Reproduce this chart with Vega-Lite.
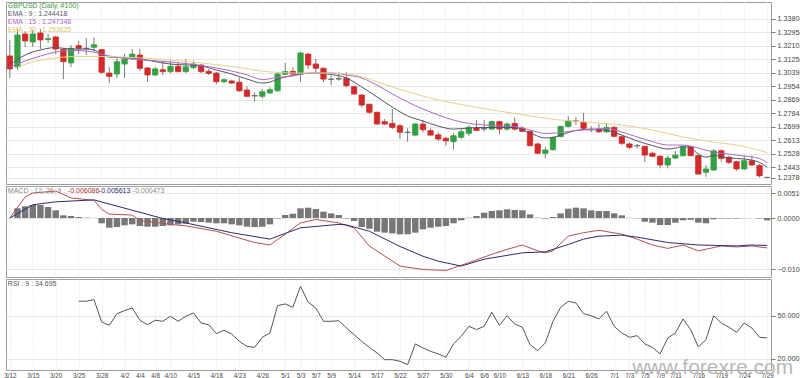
{
"$schema": "https://vega.github.io/schema/vega-lite/v6.json",
"background": "white",
"padding": {"left": 3, "top": 1, "right": 0, "bottom": 0},
"spacing": 0,
"resolve": {"scale": {"color": "independent"}},
"config": {
  "view": {"stroke": "#9c9c9c", "strokeWidth": 1},
  "font": "Liberation Sans",
  "axis": {"labelFont": "Liberation Sans", "titleFont": "Liberation Sans", "labelOverlap": false},
  "text": {"font": "Liberation Sans"}
},
"datasets": {
"candles": [
{"d":"3/12","o":1.3147,"h":1.3248,"l":1.3008,"c":1.3065},
{"d":"3/13","o":1.3077,"h":1.3317,"l":1.3058,"c":1.3280},
{"d":"3/14","o":1.3286,"h":1.3305,"l":1.3204,"c":1.3242},
{"d":"3/15","o":1.3235,"h":1.3311,"l":1.3204,"c":1.3286},
{"d":"3/18","o":1.3292,"h":1.3317,"l":1.3191,"c":1.3248},
{"d":"3/19","o":1.3251,"h":1.3286,"l":1.3229,"c":1.3257},
{"d":"3/20","o":1.3267,"h":1.3273,"l":1.3159,"c":1.3191},
{"d":"3/21","o":1.3188,"h":1.3197,"l":1.3001,"c":1.3111},
{"d":"3/22","o":1.3103,"h":1.3216,"l":1.3077,"c":1.3195},
{"d":"3/25","o":1.3212,"h":1.3243,"l":1.3159,"c":1.3195},
{"d":"3/26","o":1.3194,"h":1.3259,"l":1.3153,"c":1.3196},
{"d":"3/27","o":1.3202,"h":1.3265,"l":1.3172,"c":1.3218},
{"d":"3/28","o":1.3187,"h":1.3191,"l":1.3033,"c":1.3044},
{"d":"3/29","o":1.3039,"h":1.3077,"l":1.2976,"c":1.3018},
{"d":"4/1","o":1.3033,"h":1.3140,"l":1.3008,"c":1.3111},
{"d":"4/2","o":1.3096,"h":1.3159,"l":1.3008,"c":1.3128},
{"d":"4/3","o":1.3132,"h":1.3191,"l":1.3123,"c":1.3159},
{"d":"4/4","o":1.3153,"h":1.3191,"l":1.3054,"c":1.3069},
{"d":"4/5","o":1.3071,"h":1.3077,"l":1.2984,"c":1.3027},
{"d":"4/8","o":1.3027,"h":1.3077,"l":1.3020,"c":1.3065},
{"d":"4/9","o":1.3060,"h":1.3117,"l":1.3027,"c":1.3048},
{"d":"4/10","o":1.3048,"h":1.3117,"l":1.3039,"c":1.3082},
{"d":"4/11","o":1.3082,"h":1.3107,"l":1.3044,"c":1.3048},
{"d":"4/12","o":1.3048,"h":1.3128,"l":1.3039,"c":1.3079},
{"d":"4/15","o":1.3073,"h":1.3117,"l":1.3065,"c":1.3096},
{"d":"4/16","o":1.3090,"h":1.3096,"l":1.3039,"c":1.3048},
{"d":"4/17","o":1.3050,"h":1.3065,"l":1.3027,"c":1.3037},
{"d":"4/18","o":1.3039,"h":1.3046,"l":1.2970,"c":1.2984},
{"d":"4/19","o":1.2984,"h":1.3006,"l":1.2976,"c":1.2997},
{"d":"4/22","o":1.2989,"h":1.2997,"l":1.2970,"c":1.2976},
{"d":"4/23","o":1.2981,"h":1.3012,"l":1.2921,"c":1.2927},
{"d":"4/24","o":1.2932,"h":1.2955,"l":1.2886,"c":1.2892},
{"d":"4/25","o":1.2894,"h":1.2917,"l":1.2858,"c":1.2897},
{"d":"4/26","o":1.2892,"h":1.2938,"l":1.2879,"c":1.2921},
{"d":"4/29","o":1.2913,"h":1.2949,"l":1.2907,"c":1.2934},
{"d":"4/30","o":1.2927,"h":1.3044,"l":1.2921,"c":1.3033},
{"d":"5/1","o":1.3031,"h":1.3103,"l":1.3027,"c":1.3048},
{"d":"5/2","o":1.3050,"h":1.3075,"l":1.3027,"c":1.3033},
{"d":"5/3","o":1.3033,"h":1.3174,"l":1.2984,"c":1.3166},
{"d":"5/6","o":1.3159,"h":1.3166,"l":1.3065,"c":1.3090},
{"d":"5/7","o":1.3096,"h":1.3128,"l":1.3044,"c":1.3069},
{"d":"5/8","o":1.3069,"h":1.3075,"l":1.2981,"c":1.3001},
{"d":"5/9","o":1.3001,"h":1.3022,"l":1.2963,"c":1.2999},
{"d":"5/10","o":1.3001,"h":1.3044,"l":1.2991,"c":1.3004},
{"d":"5/13","o":1.3006,"h":1.3044,"l":1.2949,"c":1.2959},
{"d":"5/14","o":1.2953,"h":1.2959,"l":1.2900,"c":1.2907},
{"d":"5/15","o":1.2900,"h":1.2907,"l":1.2823,"c":1.2837},
{"d":"5/16","o":1.2842,"h":1.2843,"l":1.2780,"c":1.2791},
{"d":"5/17","o":1.2791,"h":1.2795,"l":1.2711,"c":1.2717},
{"d":"5/20","o":1.2732,"h":1.2749,"l":1.2711,"c":1.2717},
{"d":"5/21","o":1.2721,"h":1.2812,"l":1.2685,"c":1.2696},
{"d":"5/22","o":1.2706,"h":1.2717,"l":1.2622,"c":1.2665},
{"d":"5/23","o":1.2663,"h":1.2690,"l":1.2605,"c":1.2666},
{"d":"5/24","o":1.2647,"h":1.2723,"l":1.2643,"c":1.2717},
{"d":"5/27","o":1.2717,"h":1.2742,"l":1.2665,"c":1.2681},
{"d":"5/28","o":1.2675,"h":1.2690,"l":1.2643,"c":1.2647},
{"d":"5/29","o":1.2649,"h":1.2665,"l":1.2611,"c":1.2622},
{"d":"5/30","o":1.2627,"h":1.2637,"l":1.2580,"c":1.2610},
{"d":"5/31","o":1.2605,"h":1.2658,"l":1.2555,"c":1.2643},
{"d":"6/3","o":1.2633,"h":1.2685,"l":1.2622,"c":1.2668},
{"d":"6/4","o":1.2658,"h":1.2706,"l":1.2643,"c":1.2696},
{"d":"6/5","o":1.2692,"h":1.2742,"l":1.2673,"c":1.2677},
{"d":"6/6","o":1.2685,"h":1.2742,"l":1.2671,"c":1.2689},
{"d":"6/7","o":1.2685,"h":1.2738,"l":1.2681,"c":1.2732},
{"d":"6/10","o":1.2732,"h":1.2738,"l":1.2654,"c":1.2685},
{"d":"6/11","o":1.2685,"h":1.2728,"l":1.2675,"c":1.2717},
{"d":"6/12","o":1.2721,"h":1.2759,"l":1.2675,"c":1.2685},
{"d":"6/13","o":1.2690,"h":1.2702,"l":1.2665,"c":1.2671},
{"d":"6/14","o":1.2671,"h":1.2675,"l":1.2576,"c":1.2580},
{"d":"6/17","o":1.2591,"h":1.2601,"l":1.2527,"c":1.2532},
{"d":"6/18","o":1.2532,"h":1.2570,"l":1.2500,"c":1.2553},
{"d":"6/19","o":1.2555,"h":1.2637,"l":1.2548,"c":1.2633},
{"d":"6/20","o":1.2637,"h":1.2706,"l":1.2633,"c":1.2702},
{"d":"6/21","o":1.2702,"h":1.2766,"l":1.2696,"c":1.2738},
{"d":"6/24","o":1.2733,"h":1.2759,"l":1.2711,"c":1.2737},
{"d":"6/25","o":1.2728,"h":1.2787,"l":1.2685,"c":1.2690},
{"d":"6/26","o":1.2682,"h":1.2702,"l":1.2665,"c":1.2680},
{"d":"6/27","o":1.2685,"h":1.2717,"l":1.2660,"c":1.2668},
{"d":"6/28","o":1.2668,"h":1.2723,"l":1.2660,"c":1.2696},
{"d":"7/1","o":1.2696,"h":1.2702,"l":1.2633,"c":1.2639},
{"d":"7/2","o":1.2637,"h":1.2643,"l":1.2584,"c":1.2595},
{"d":"7/3","o":1.2591,"h":1.2601,"l":1.2559,"c":1.2570},
{"d":"7/4","o":1.2581,"h":1.2591,"l":1.2563,"c":1.2579},
{"d":"7/5","o":1.2576,"h":1.2580,"l":1.2479,"c":1.2521},
{"d":"7/8","o":1.2532,"h":1.2542,"l":1.2507,"c":1.2513},
{"d":"7/9","o":1.2513,"h":1.2521,"l":1.2437,"c":1.2458},
{"d":"7/10","o":1.2458,"h":1.2517,"l":1.2437,"c":1.2502},
{"d":"7/11","o":1.2502,"h":1.2548,"l":1.2496,"c":1.2521},
{"d":"7/12","o":1.2517,"h":1.2576,"l":1.2513,"c":1.2570},
{"d":"7/15","o":1.2574,"h":1.2580,"l":1.2513,"c":1.2517},
{"d":"7/16","o":1.2517,"h":1.2521,"l":1.2397,"c":1.2401},
{"d":"7/17","o":1.2412,"h":1.2458,"l":1.2384,"c":1.2433},
{"d":"7/18","o":1.2426,"h":1.2559,"l":1.2422,"c":1.2548},
{"d":"7/19","o":1.2548,"h":1.2555,"l":1.2479,"c":1.2500},
{"d":"7/22","o":1.2507,"h":1.2517,"l":1.2464,"c":1.2475},
{"d":"7/23","o":1.2479,"h":1.2485,"l":1.2422,"c":1.2433},
{"d":"7/24","o":1.2433,"h":1.2517,"l":1.2426,"c":1.2485},
{"d":"7/25","o":1.2485,"h":1.2517,"l":1.2450,"c":1.2458},
{"d":"7/26","o":1.2454,"h":1.2464,"l":1.2380,"c":1.2390},
{"d":"7/29","o":1.2380,"h":1.2382,"l":1.2377,"c":1.2379}
],
"ema": [
{"i":0,"d":"3/12","k":"EMA9","v":1.3090},{"i":2,"d":"3/14","k":"EMA9","v":1.3153},{"i":4,"d":"3/18","k":"EMA9","v":1.3185},{"i":6,"d":"3/20","k":"EMA9","v":1.3200},{"i":8,"d":"3/22","k":"EMA9","v":1.3191},{"i":10,"d":"3/26","k":"EMA9","v":1.3191},{"i":11,"d":"3/27","k":"EMA9","v":1.3185},{"i":12,"d":"3/28","k":"EMA9","v":1.3159},{"i":13,"d":"3/29","k":"EMA9","v":1.3140},{"i":16,"d":"4/3","k":"EMA9","v":1.3134},{"i":21,"d":"4/10","k":"EMA9","v":1.3096},{"i":25,"d":"4/16","k":"EMA9","v":1.3084},{"i":27,"d":"4/18","k":"EMA9","v":1.3058},{"i":29,"d":"4/22","k":"EMA9","v":1.3033},{"i":31,"d":"4/24","k":"EMA9","v":1.3001},{"i":33,"d":"4/26","k":"EMA9","v":1.2976},{"i":34,"d":"4/29","k":"EMA9","v":1.2982},{"i":35,"d":"4/30","k":"EMA9","v":1.3001},{"i":36,"d":"5/1","k":"EMA9","v":1.3014},{"i":38,"d":"5/3","k":"EMA9","v":1.3033},{"i":40,"d":"5/7","k":"EMA9","v":1.3039},{"i":42,"d":"5/9","k":"EMA9","v":1.3030},{"i":44,"d":"5/13","k":"EMA9","v":1.3008},{"i":46,"d":"5/15","k":"EMA9","v":1.2951},{"i":48,"d":"5/17","k":"EMA9","v":1.2888},{"i":50,"d":"5/21","k":"EMA9","v":1.2824},{"i":52,"d":"5/23","k":"EMA9","v":1.2768},{"i":54,"d":"5/27","k":"EMA9","v":1.2736},{"i":56,"d":"5/29","k":"EMA9","v":1.2704},{"i":58,"d":"5/31","k":"EMA9","v":1.2685},{"i":60,"d":"6/4","k":"EMA9","v":1.2692},{"i":62,"d":"6/6","k":"EMA9","v":1.2695},{"i":64,"d":"6/10","k":"EMA9","v":1.2695},{"i":66,"d":"6/12","k":"EMA9","v":1.2695},{"i":68,"d":"6/14","k":"EMA9","v":1.2660},{"i":70,"d":"6/18","k":"EMA9","v":1.2629},{"i":71,"d":"6/19","k":"EMA9","v":1.2632},{"i":72,"d":"6/20","k":"EMA9","v":1.2647},{"i":74,"d":"6/24","k":"EMA9","v":1.2676},{"i":76,"d":"6/26","k":"EMA9","v":1.2685},{"i":78,"d":"6/28","k":"EMA9","v":1.2676},{"i":80,"d":"7/2","k":"EMA9","v":1.2647},{"i":82,"d":"7/4","k":"EMA9","v":1.2610},{"i":84,"d":"7/8","k":"EMA9","v":1.2581},{"i":86,"d":"7/10","k":"EMA9","v":1.2559},{"i":87,"d":"7/11","k":"EMA9","v":1.2565},{"i":88,"d":"7/12","k":"EMA9","v":1.2575},{"i":89,"d":"7/15","k":"EMA9","v":1.2565},{"i":90,"d":"7/16","k":"EMA9","v":1.2527},{"i":91,"d":"7/17","k":"EMA9","v":1.2508},{"i":92,"d":"7/18","k":"EMA9","v":1.2518},{"i":94,"d":"7/22","k":"EMA9","v":1.2502},{"i":96,"d":"7/24","k":"EMA9","v":1.2496},{"i":98,"d":"7/26","k":"EMA9","v":1.2474},{"i":99,"d":"7/29","k":"EMA9","v":1.2444},
{"i":0,"d":"3/12","k":"EMA15","v":1.3077},{"i":2,"d":"3/14","k":"EMA15","v":1.3115},{"i":4,"d":"3/18","k":"EMA15","v":1.3147},{"i":6,"d":"3/20","k":"EMA15","v":1.3172},{"i":8,"d":"3/22","k":"EMA15","v":1.3182},{"i":10,"d":"3/26","k":"EMA15","v":1.3178},{"i":12,"d":"3/28","k":"EMA15","v":1.3159},{"i":13,"d":"3/29","k":"EMA15","v":1.3147},{"i":16,"d":"4/3","k":"EMA15","v":1.3128},{"i":21,"d":"4/10","k":"EMA15","v":1.3109},{"i":25,"d":"4/16","k":"EMA15","v":1.3087},{"i":27,"d":"4/18","k":"EMA15","v":1.3071},{"i":29,"d":"4/22","k":"EMA15","v":1.3052},{"i":31,"d":"4/24","k":"EMA15","v":1.3027},{"i":33,"d":"4/26","k":"EMA15","v":1.2998},{"i":35,"d":"4/30","k":"EMA15","v":1.3011},{"i":37,"d":"5/2","k":"EMA15","v":1.3020},{"i":39,"d":"5/6","k":"EMA15","v":1.3039},{"i":42,"d":"5/9","k":"EMA15","v":1.3039},{"i":44,"d":"5/13","k":"EMA15","v":1.3027},{"i":46,"d":"5/15","k":"EMA15","v":1.3008},{"i":48,"d":"5/17","k":"EMA15","v":1.2963},{"i":50,"d":"5/21","k":"EMA15","v":1.2907},{"i":52,"d":"5/23","k":"EMA15","v":1.2856},{"i":54,"d":"5/27","k":"EMA15","v":1.2812},{"i":56,"d":"5/29","k":"EMA15","v":1.2774},{"i":58,"d":"5/31","k":"EMA15","v":1.2742},{"i":60,"d":"6/4","k":"EMA15","v":1.2720},{"i":62,"d":"6/6","k":"EMA15","v":1.2711},{"i":64,"d":"6/10","k":"EMA15","v":1.2704},{"i":66,"d":"6/12","k":"EMA15","v":1.2701},{"i":68,"d":"6/14","k":"EMA15","v":1.2679},{"i":70,"d":"6/18","k":"EMA15","v":1.2657},{"i":72,"d":"6/20","k":"EMA15","v":1.2663},{"i":74,"d":"6/24","k":"EMA15","v":1.2676},{"i":76,"d":"6/26","k":"EMA15","v":1.2682},{"i":78,"d":"6/28","k":"EMA15","v":1.2689},{"i":80,"d":"7/2","k":"EMA15","v":1.2666},{"i":82,"d":"7/4","k":"EMA15","v":1.2635},{"i":84,"d":"7/8","k":"EMA15","v":1.2606},{"i":86,"d":"7/10","k":"EMA15","v":1.2584},{"i":88,"d":"7/12","k":"EMA15","v":1.2584},{"i":90,"d":"7/16","k":"EMA15","v":1.2565},{"i":92,"d":"7/18","k":"EMA15","v":1.2540},{"i":94,"d":"7/22","k":"EMA15","v":1.2527},{"i":96,"d":"7/24","k":"EMA15","v":1.2515},{"i":98,"d":"7/26","k":"EMA15","v":1.2499},{"i":99,"d":"7/29","k":"EMA15","v":1.2473},
{"i":1,"d":"3/13","k":"EMA30","v":1.3077},{"i":3,"d":"3/15","k":"EMA30","v":1.3109},{"i":5,"d":"3/19","k":"EMA30","v":1.3128},{"i":7,"d":"3/21","k":"EMA30","v":1.3140},{"i":9,"d":"3/25","k":"EMA30","v":1.3144},{"i":12,"d":"3/28","k":"EMA30","v":1.3144},{"i":15,"d":"4/2","k":"EMA30","v":1.3140},{"i":20,"d":"4/9","k":"EMA30","v":1.3125},{"i":25,"d":"4/16","k":"EMA30","v":1.3103},{"i":30,"d":"4/23","k":"EMA30","v":1.3074},{"i":34,"d":"4/29","k":"EMA30","v":1.3046},{"i":38,"d":"5/3","k":"EMA30","v":1.3039},{"i":42,"d":"5/9","k":"EMA30","v":1.3039},{"i":45,"d":"5/14","k":"EMA30","v":1.3027},{"i":47,"d":"5/16","k":"EMA30","v":1.3001},{"i":50,"d":"5/21","k":"EMA30","v":1.2951},{"i":53,"d":"5/24","k":"EMA30","v":1.2907},{"i":56,"d":"5/29","k":"EMA30","v":1.2869},{"i":60,"d":"6/4","k":"EMA30","v":1.2831},{"i":64,"d":"6/10","k":"EMA30","v":1.2799},{"i":68,"d":"6/14","k":"EMA30","v":1.2768},{"i":72,"d":"6/20","k":"EMA30","v":1.2742},{"i":76,"d":"6/26","k":"EMA30","v":1.2727},{"i":80,"d":"7/2","k":"EMA30","v":1.2711},{"i":84,"d":"7/8","k":"EMA30","v":1.2679},{"i":88,"d":"7/12","k":"EMA30","v":1.2635},{"i":92,"d":"7/18","k":"EMA30","v":1.2603},{"i":96,"d":"7/24","k":"EMA30","v":1.2575},{"i":99,"d":"7/29","k":"EMA30","v":1.2536}
],
"macd": [
{"d":"3/12","h":0},{"d":"3/13","h":0.00198},{"d":"3/14","h":0.00239},{"d":"3/15","h":0.00265},{"d":"3/18","h":0.00265},{"d":"3/19","h":0.00224},{"d":"3/20","h":0.00157},{"d":"3/21","h":0.00055},{"d":"3/22","h":0.00041},{"d":"3/25","h":0.0002},
{"d":"3/26","h":0.00007},{"d":"3/27","h":0.00002},{"d":"3/28","h":-0.00108},{"d":"3/29","h":-0.00198},{"d":"4/1","h":-0.00184},{"d":"4/2","h":-0.00149},{"d":"4/3","h":-0.00129},{"d":"4/4","h":-0.00163},{"d":"4/5","h":-0.00177},{"d":"4/8","h":-0.00177},
{"d":"4/9","h":-0.00163},{"d":"4/10","h":-0.00149},{"d":"4/11","h":-0.00129},{"d":"4/12","h":-0.00116},{"d":"4/15","h":-0.00075},{"d":"4/16","h":-0.00082},{"d":"4/17","h":-0.00095},{"d":"4/18","h":-0.00108},{"d":"4/19","h":-0.00108},{"d":"4/22","h":-0.00129},
{"d":"4/23","h":-0.00149},{"d":"4/24","h":-0.00177},{"d":"4/25","h":-0.00184},{"d":"4/26","h":-0.00177},{"d":"4/29","h":-0.00129},{"d":"4/30","h":-0.0001},{"d":"5/1","h":0.00061},{"d":"5/2","h":0.00088},{"d":"5/3","h":0.00198},{"d":"5/6","h":0.00211},
{"d":"5/7","h":0.00184},{"d":"5/8","h":0.00129},{"d":"5/9","h":0.00095},{"d":"5/10","h":0.00061},{"d":"5/13","h":-0.0001},{"d":"5/14","h":-0.00061},{"d":"5/15","h":-0.00184},{"d":"5/16","h":-0.00218},{"d":"5/17","h":-0.00279},{"d":"5/20","h":-0.00299},
{"d":"5/21","h":-0.00313},{"d":"5/22","h":-0.00333},{"d":"5/23","h":-0.00333},{"d":"5/24","h":-0.00299},{"d":"5/27","h":-0.0023},{"d":"5/28","h":-0.00198},{"d":"5/29","h":-0.00177},{"d":"5/30","h":-0.00163},{"d":"5/31","h":-0.00108},{"d":"6/3","h":-0.00047},
{"d":"6/4","h":0.00005},{"d":"6/5","h":0.00041},{"d":"6/6","h":0.00109},{"d":"6/7","h":0.00143},{"d":"6/10","h":0.00157},{"d":"6/11","h":0.00177},{"d":"6/12","h":0.00163},{"d":"6/13","h":0.00157},{"d":"6/14","h":0.00075},{"d":"6/17","h":0.00005},
{"d":"6/18","h":-0.0001},{"d":"6/19","h":0.0002},{"d":"6/20","h":0.00095},{"d":"6/21","h":0.0019},{"d":"6/24","h":0.00211},{"d":"6/25","h":0.00198},{"d":"6/26","h":0.00157},{"d":"6/27","h":0.00143},{"d":"6/28","h":0.00143},{"d":"7/1","h":0.00095},
{"d":"7/2","h":0.00055},{"d":"7/3","h":0.00003},{"d":"7/4","h":-0.00005},{"d":"7/5","h":-0.00075},{"d":"7/8","h":-0.00095},{"d":"7/9","h":-0.00143},{"d":"7/10","h":-0.00143},{"d":"7/11","h":-0.00095},{"d":"7/12","h":-0.00047},{"d":"7/15","h":-0.00035},
{"d":"7/16","h":-0.00095},{"d":"7/17","h":-0.00108},{"d":"7/18","h":-0.00025},{"d":"7/19","h":-0.0001},{"d":"7/22","h":-0.0001},{"d":"7/23","h":-0.0001},{"d":"7/24","h":-0.00003},{"d":"7/25","h":0.00002},{"d":"7/26","h":-0.0001},{"d":"7/29","h":-0.00047}
],
"macdl": [
{"i":0,"d":"3/12","k":"MACD","v":0},{"i":2,"d":"3/14","k":"MACD","v":0.0043},{"i":3,"d":"3/15","k":"MACD","v":0.0051},{"i":6,"d":"3/20","k":"MACD","v":0.0055},{"i":8,"d":"3/22","k":"MACD","v":0.0041},{"i":11,"d":"3/27","k":"MACD","v":0.0036},{"i":12,"d":"3/28","k":"MACD","v":0.0018},{"i":13,"d":"3/29","k":"MACD","v":0.0008},{"i":16,"d":"4/3","k":"MACD","v":0.0006},{"i":17,"d":"4/4","k":"MACD","v":-0.0005},{"i":21,"d":"4/10","k":"MACD","v":-0.0013},{"i":23,"d":"4/12","k":"MACD","v":-0.0016},{"i":27,"d":"4/18","k":"MACD","v":-0.0027},{"i":32,"d":"4/25","k":"MACD","v":-0.0050},{"i":34,"d":"4/29","k":"MACD","v":-0.0055},{"i":36,"d":"5/1","k":"MACD","v":-0.0033},{"i":38,"d":"5/3","k":"MACD","v":-0.0010},{"i":40,"d":"5/7","k":"MACD","v":-0.0003},{"i":43,"d":"5/10","k":"MACD","v":-0.0010},{"i":45,"d":"5/14","k":"MACD","v":-0.0020},{"i":47,"d":"5/16","k":"MACD","v":-0.0057},{"i":51,"d":"5/22","k":"MACD","v":-0.0098},{"i":54,"d":"5/27","k":"MACD","v":-0.0105},{"i":57,"d":"5/30","k":"MACD","v":-0.0107},{"i":60,"d":"6/4","k":"MACD","v":-0.0091},{"i":63,"d":"6/7","k":"MACD","v":-0.0074},{"i":65,"d":"6/11","k":"MACD","v":-0.0064},{"i":67,"d":"6/13","k":"MACD","v":-0.0055},{"i":69,"d":"6/17","k":"MACD","v":-0.0067},{"i":70,"d":"6/18","k":"MACD","v":-0.0071},{"i":71,"d":"6/19","k":"MACD","v":-0.0067},{"i":73,"d":"6/21","k":"MACD","v":-0.0037},{"i":75,"d":"6/25","k":"MACD","v":-0.0030},{"i":77,"d":"6/27","k":"MACD","v":-0.0025},{"i":80,"d":"7/2","k":"MACD","v":-0.0033},{"i":82,"d":"7/4","k":"MACD","v":-0.0043},{"i":84,"d":"7/8","k":"MACD","v":-0.0055},{"i":86,"d":"7/10","k":"MACD","v":-0.0062},{"i":88,"d":"7/12","k":"MACD","v":-0.0055},{"i":90,"d":"7/16","k":"MACD","v":-0.0067},{"i":93,"d":"7/19","k":"MACD","v":-0.0057},{"i":95,"d":"7/23","k":"MACD","v":-0.0059},{"i":97,"d":"7/25","k":"MACD","v":-0.0057},{"i":99,"d":"7/29","k":"MACD","v":-0.0061},
{"i":0,"d":"3/12","k":"Signal","v":0},{"i":2,"d":"3/14","k":"Signal","v":0.0018},{"i":3,"d":"3/15","k":"Signal","v":0.0027},{"i":6,"d":"3/20","k":"Signal","v":0.0033},{"i":11,"d":"3/27","k":"Signal","v":0.0037},{"i":20,"d":"4/9","k":"Signal","v":-0.0001},{"i":23,"d":"4/12","k":"Signal","v":-0.0010},{"i":29,"d":"4/22","k":"Signal","v":-0.0030},{"i":34,"d":"4/29","k":"Signal","v":-0.0043},{"i":38,"d":"5/3","k":"Signal","v":-0.0020},{"i":43,"d":"5/10","k":"Signal","v":-0.0013},{"i":44,"d":"5/13","k":"Signal","v":-0.0014},{"i":47,"d":"5/16","k":"Signal","v":-0.0027},{"i":51,"d":"5/22","k":"Signal","v":-0.0058},{"i":54,"d":"5/27","k":"Signal","v":-0.0078},{"i":56,"d":"5/29","k":"Signal","v":-0.0088},{"i":59,"d":"6/3","k":"Signal","v":-0.0098},{"i":62,"d":"6/6","k":"Signal","v":-0.0084},{"i":67,"d":"6/13","k":"Signal","v":-0.0071},{"i":70,"d":"6/18","k":"Signal","v":-0.0069},{"i":73,"d":"6/21","k":"Signal","v":-0.0054},{"i":75,"d":"6/25","k":"Signal","v":-0.0043},{"i":77,"d":"6/27","k":"Signal","v":-0.0037},{"i":80,"d":"7/2","k":"Signal","v":-0.0035},{"i":82,"d":"7/4","k":"Signal","v":-0.0039},{"i":86,"d":"7/10","k":"Signal","v":-0.0050},{"i":90,"d":"7/16","k":"Signal","v":-0.0055},{"i":95,"d":"7/23","k":"Signal","v":-0.0057},{"i":97,"d":"7/25","k":"Signal","v":-0.0055},{"i":99,"d":"7/29","k":"Signal","v":-0.0056}
],
"rsi": [
{"i":9,"d":"3/25","v":60.3},{"i":10,"d":"3/26","v":60.3},{"i":11,"d":"3/27","v":61.4},{"i":12,"d":"3/28","v":45.8},{"i":13,"d":"3/29","v":43.5},{"i":14,"d":"4/1","v":51.6},{"i":15,"d":"4/2","v":53.7},{"i":16,"d":"4/3","v":55.6},{"i":17,"d":"4/4","v":47.0},{"i":18,"d":"4/5","v":43.9},
{"i":19,"d":"4/8","v":47.0},{"i":20,"d":"4/9","v":46.3},{"i":21,"d":"4/10","v":49.8},{"i":22,"d":"4/11","v":46.3},{"i":23,"d":"4/12","v":49.8},{"i":24,"d":"4/15","v":52.1},{"i":25,"d":"4/16","v":45.1},{"i":26,"d":"4/17","v":43.9},{"i":27,"d":"4/18","v":37.7},{"i":28,"d":"4/19","v":40.0},
{"i":29,"d":"4/22","v":37.4},{"i":30,"d":"4/23","v":32.3},{"i":31,"d":"4/24","v":28.8},{"i":32,"d":"4/25","v":28.1},{"i":33,"d":"4/26","v":35.1},{"i":34,"d":"4/29","v":38.1},{"i":35,"d":"4/30","v":57.2},{"i":36,"d":"5/1","v":58.4},{"i":37,"d":"5/2","v":56.1},{"i":38,"d":"5/3","v":70.7},
{"i":39,"d":"5/6","v":59.6},{"i":40,"d":"5/7","v":55.6},{"i":41,"d":"5/8","v":46.3},{"i":42,"d":"5/9","v":46.3},{"i":43,"d":"5/10","v":46.7},{"i":44,"d":"5/13","v":41.6},{"i":45,"d":"5/14","v":37.0},{"i":46,"d":"5/15","v":32.3},{"i":47,"d":"5/16","v":28.1},{"i":48,"d":"5/17","v":24.2},
{"i":49,"d":"5/20","v":19.5},{"i":50,"d":"5/21","v":19.5},{"i":51,"d":"5/22","v":18.4},{"i":52,"d":"5/23","v":16.0},{"i":53,"d":"5/24","v":30.5},{"i":54,"d":"5/27","v":27.7},{"i":55,"d":"5/28","v":25.3},{"i":56,"d":"5/29","v":23.5},{"i":57,"d":"5/30","v":21.2},{"i":58,"d":"5/31","v":30.5},
{"i":59,"d":"6/3","v":35.8},{"i":60,"d":"6/4","v":42.8},{"i":61,"d":"6/5","v":40.5},{"i":62,"d":"6/6","v":42.8},{"i":63,"d":"6/7","v":52.6},{"i":64,"d":"6/10","v":43.5},{"i":65,"d":"6/11","v":50.2},{"i":66,"d":"6/12","v":44.4},{"i":67,"d":"6/13","v":42.1},{"i":68,"d":"6/14","v":30.0},
{"i":69,"d":"6/17","v":25.8},{"i":70,"d":"6/18","v":31.2},{"i":71,"d":"6/19","v":46.3},{"i":72,"d":"6/20","v":56.0},{"i":73,"d":"6/21","v":60.2},{"i":74,"d":"6/24","v":59.1},{"i":75,"d":"6/25","v":51.6},{"i":76,"d":"6/26","v":50.2},{"i":77,"d":"6/27","v":47.9},{"i":78,"d":"6/28","v":53.3},
{"i":79,"d":"7/1","v":42.8},{"i":80,"d":"7/2","v":38.1},{"i":81,"d":"7/3","v":35.1},{"i":82,"d":"7/4","v":36.3},{"i":83,"d":"7/5","v":30.5},{"i":84,"d":"7/8","v":28.1},{"i":85,"d":"7/9","v":23.5},{"i":86,"d":"7/10","v":34.6},{"i":87,"d":"7/11","v":38.1},{"i":88,"d":"7/12","v":47.9},
{"i":89,"d":"7/15","v":40.5},{"i":90,"d":"7/16","v":28.4},{"i":91,"d":"7/17","v":33.5},{"i":92,"d":"7/18","v":50.2},{"i":93,"d":"7/19","v":45.1},{"i":94,"d":"7/22","v":42.1},{"i":95,"d":"7/23","v":38.6},{"i":96,"d":"7/24","v":45.1},{"i":97,"d":"7/25","v":41.6},{"i":98,"d":"7/26","v":35.1},{"i":99,"d":"7/29","v":34.7}
]
},
"vconcat": [
{
 "width": 765, "height": 182,
 "resolve": {"axis": {"x": "independent", "y": "independent"}},
 "layer": [
  {
   "data": {"name": "candles"},
   "mark": {"type": "rule", "strokeWidth": 1},
   "encoding": {
    "x": {"field": "d", "type": "ordinal",
      "scale": {"domain": ["3/12","3/13","3/14","3/15","3/18","3/19","3/20","3/21","3/22","3/25","3/26","3/27","3/28","3/29","4/1","4/2","4/3","4/4","4/5","4/8","4/9","4/10","4/11","4/12","4/15","4/16","4/17","4/18","4/19","4/22","4/23","4/24","4/25","4/26","4/29","4/30","5/1","5/2","5/3","5/6","5/7","5/8","5/9","5/10","5/13","5/14","5/15","5/16","5/17","5/20","5/21","5/22","5/23","5/24","5/27","5/28","5/29","5/30","5/31","6/3","6/4","6/5","6/6","6/7","6/10","6/11","6/12","6/13","6/14","6/17","6/18","6/19","6/20","6/21","6/24","6/25","6/26","6/27","6/28","7/1","7/2","7/3","7/4","7/5","7/8","7/9","7/10","7/11","7/12","7/15","7/16","7/17","7/18","7/19","7/22","7/23","7/24","7/25","7/26","7/29"], "paddingInner": 0.3, "paddingOuter": 0.15},
      "axis": {"title": null, "labels": false, "ticks": false, "domain": false, "grid": true, "gridColor": "#e2e2e2", "gridDash": [1, 2], "bandPosition": 0.5,
        "values": ["3/12","3/15","3/20","3/25","3/28","4/2","4/4","4/8","4/10","4/15","4/18","4/23","4/26","5/1","5/3","5/7","5/9","5/14","5/17","5/22","5/27","5/30","6/4","6/6","6/10","6/13","6/18","6/21","6/26","7/1","7/3","7/5","7/9","7/11","7/16","7/19","7/24","7/29"]}},
    "y": {"field": "l", "type": "quantitative", "scale": {"domain": [1.2338, 1.3488], "zero": false, "nice": false},
      "axis": {"orient": "right", "title": null, "values": [1.33806, 1.32954, 1.32102, 1.3125, 1.30398, 1.29546, 1.28694, 1.27842, 1.2699, 1.26138, 1.25286, 1.24434, 1.23786], "format": ".5f", "grid": true, "gridColor": "#e6e6e6", "tickSize": 4, "tickColor": "#777", "labelFontSize": 7.2, "labelColor": "#444", "labelPadding": 2, "domain": false, "labelOverlap": false}},
    "y2": {"field": "h"},
    "color": {"value": "#7a7a7a"}
   }
  },
  {
   "data": {"name": "candles"},
   "mark": {"type": "bar", "strokeWidth": 0.8},
   "encoding": {
    "x": {"field": "d", "type": "ordinal", "axis": null},
    "y": {"field": "o", "type": "quantitative", "axis": null},
    "y2": {"field": "c"},
    "fill": {"condition": [{"test": "abs(datum.c - datum.o) < 0.00045", "value": "#6a6a6a"}, {"test": "datum.c > datum.o", "value": "#33a043"}], "value": "#d22a2a"},
    "stroke": {"condition": [{"test": "abs(datum.c - datum.o) < 0.00045", "value": "#6a6a6a"}, {"test": "datum.c > datum.o", "value": "#33a043"}], "value": "#d22a2a"}
   }
  },
  {
   "data": {"name": "ema"},
   "mark": {"type": "line", "strokeWidth": 1, "interpolate": "monotone"},
   "encoding": {
    "x": {"field": "d", "type": "ordinal", "axis": null},
    "y": {"field": "v", "type": "quantitative", "axis": null},
    "color": {"field": "k", "type": "nominal", "scale": {"domain": ["EMA9", "EMA15", "EMA30"], "range": ["#4f5566", "#b068c8", "#e2d48a"]}, "legend": null},
    "order": {"field": "i", "type": "quantitative"}
   }
  },
  {
   "data": {"values": [{}]},
   "mark": {"type": "text", "align": "left", "baseline": "middle", "dx": -2, "fontSize": 7, "color": "#3c9c3c"},
   "encoding": {"x": {"datum": "3/12", "type": "ordinal", "axis": null}, "y": {"datum": 1.3465, "axis": null}, "text": {"value": "GBPUSD (Daily, #100)"}}
  },
  {
   "data": {"values": [{}]},
   "mark": {"type": "text", "align": "left", "baseline": "middle", "dx": -2, "fontSize": 7, "color": "#555a66"},
   "encoding": {"x": {"datum": "3/12", "type": "ordinal", "axis": null}, "y": {"datum": 1.3412, "axis": null}, "text": {"value": "EMA : 9 : 1.244418"}}
  },
  {
   "data": {"values": [{}]},
   "mark": {"type": "text", "align": "left", "baseline": "middle", "dx": -2, "fontSize": 7, "color": "#b068c8"},
   "encoding": {"x": {"datum": "3/12", "type": "ordinal", "axis": null}, "y": {"datum": 1.3362, "axis": null}, "text": {"value": "EMA : 15 : 1.247348"}}
  },
  {
   "data": {"values": [{}]},
   "mark": {"type": "text", "align": "left", "baseline": "middle", "dx": -2, "fontSize": 7, "color": "#d8c870"},
   "encoding": {"x": {"datum": "3/12", "type": "ordinal", "axis": null}, "y": {"datum": 1.3313, "axis": null}, "text": {"value": "EMA : 30 : 1.253625"}}
  }
 ]
},
{
 "width": 765, "height": 91,
 "resolve": {"axis": {"x": "independent", "y": "independent"}},
 "layer": [
  {
   "data": {"name": "macd"},
   "mark": {"type": "bar", "color": "#777777", "width": {"band": 1.2}},
   "encoding": {
    "x": {"field": "d", "type": "ordinal",
      "scale": {"domain": ["3/12","3/13","3/14","3/15","3/18","3/19","3/20","3/21","3/22","3/25","3/26","3/27","3/28","3/29","4/1","4/2","4/3","4/4","4/5","4/8","4/9","4/10","4/11","4/12","4/15","4/16","4/17","4/18","4/19","4/22","4/23","4/24","4/25","4/26","4/29","4/30","5/1","5/2","5/3","5/6","5/7","5/8","5/9","5/10","5/13","5/14","5/15","5/16","5/17","5/20","5/21","5/22","5/23","5/24","5/27","5/28","5/29","5/30","5/31","6/3","6/4","6/5","6/6","6/7","6/10","6/11","6/12","6/13","6/14","6/17","6/18","6/19","6/20","6/21","6/24","6/25","6/26","6/27","6/28","7/1","7/2","7/3","7/4","7/5","7/8","7/9","7/10","7/11","7/12","7/15","7/16","7/17","7/18","7/19","7/22","7/23","7/24","7/25","7/26","7/29"], "paddingInner": 0.3, "paddingOuter": 0.15},
      "axis": {"title": null, "labels": false, "ticks": false, "domain": false, "grid": true, "gridColor": "#e2e2e2", "gridDash": [1, 2], "bandPosition": 0.5,
        "values": ["3/12","3/15","3/20","3/25","3/28","4/2","4/4","4/8","4/10","4/15","4/18","4/23","4/26","5/1","5/3","5/7","5/9","5/14","5/17","5/22","5/27","5/30","6/4","6/6","6/10","6/13","6/18","6/21","6/26","7/1","7/3","7/5","7/9","7/11","7/16","7/19","7/24","7/29"]}},
    "y": {"field": "h", "type": "quantitative", "scale": {"domain": [-0.01203, 0.00653], "zero": false, "nice": false},
      "axis": {"orient": "right", "title": null, "values": [0.0051, 0, -0.0104], "format": ".6f", "grid": true, "gridColor": "#e6e6e6", "tickSize": 4, "tickColor": "#777", "labelFontSize": 7.2, "labelColor": "#444", "labelPadding": 2, "domain": false, "labelOverlap": false}}
   }
  },
  {
   "data": {"name": "macdl"},
   "mark": {"type": "line", "strokeWidth": 1},
   "encoding": {
    "x": {"field": "d", "type": "ordinal", "axis": null},
    "y": {"field": "v", "type": "quantitative", "axis": null},
    "color": {"field": "k", "type": "nominal", "scale": {"domain": ["MACD", "Signal"], "range": ["#b85050", "#2c2c70"]}, "legend": null},
    "order": {"field": "i", "type": "quantitative"}
   }
  },
  {
   "data": {"values": [{}]},
   "mark": {"type": "text", "align": "left", "baseline": "middle", "dx": -2, "fontSize": 7, "color": "#888888"},
   "encoding": {"x": {"datum": "3/12", "type": "ordinal", "axis": null}, "y": {"datum": 0.0055, "axis": null}, "text": {"value": "MACD : 12, 26, 9 :"}}
  },
  {
   "data": {"values": [{}]},
   "mark": {"type": "text", "align": "left", "baseline": "middle", "dx": 58, "fontSize": 7, "color": "#b03030"},
   "encoding": {"x": {"datum": "3/12", "type": "ordinal", "axis": null}, "y": {"datum": 0.0055, "axis": null}, "text": {"value": "-0.006086"}}
  },
  {
   "data": {"values": [{}]},
   "mark": {"type": "text", "align": "left", "baseline": "middle", "dx": 89, "fontSize": 7, "color": "#2c2c70"},
   "encoding": {"x": {"datum": "3/12", "type": "ordinal", "axis": null}, "y": {"datum": 0.0055, "axis": null}, "text": {"value": "-0.005613"}}
  },
  {
   "data": {"values": [{}]},
   "mark": {"type": "text", "align": "left", "baseline": "middle", "dx": 123, "fontSize": 7, "color": "#888888"},
   "encoding": {"x": {"datum": "3/12", "type": "ordinal", "axis": null}, "y": {"datum": 0.0055, "axis": null}, "text": {"value": "-0.000473"}}
  }
 ]
},
{
 "width": 765, "height": 91,
 "resolve": {"axis": {"x": "independent", "y": "independent"}},
 "layer": [
  {
   "data": {"values": [{}]},
   "mark": {"type": "text", "align": "right", "baseline": "alphabetic", "dx": 26, "fontSize": 21, "color": "#b8b8b8"},
   "encoding": {
    "x": {"datum": "7/29", "type": "ordinal",
      "scale": {"domain": ["3/12","3/13","3/14","3/15","3/18","3/19","3/20","3/21","3/22","3/25","3/26","3/27","3/28","3/29","4/1","4/2","4/3","4/4","4/5","4/8","4/9","4/10","4/11","4/12","4/15","4/16","4/17","4/18","4/19","4/22","4/23","4/24","4/25","4/26","4/29","4/30","5/1","5/2","5/3","5/6","5/7","5/8","5/9","5/10","5/13","5/14","5/15","5/16","5/17","5/20","5/21","5/22","5/23","5/24","5/27","5/28","5/29","5/30","5/31","6/3","6/4","6/5","6/6","6/7","6/10","6/11","6/12","6/13","6/14","6/17","6/18","6/19","6/20","6/21","6/24","6/25","6/26","6/27","6/28","7/1","7/2","7/3","7/4","7/5","7/8","7/9","7/10","7/11","7/12","7/15","7/16","7/17","7/18","7/19","7/22","7/23","7/24","7/25","7/26","7/29"], "paddingInner": 0.3, "paddingOuter": 0.15},
      "axis": {"title": null, "labels": true, "labelFontSize": 6.3, "labelColor": "#444", "labelPadding": 2, "labelAngle": 0, "labelOverlap": false, "ticks": false, "tickSize": 0, "domain": false, "grid": true, "gridColor": "#e2e2e2", "gridDash": [1, 2], "bandPosition": 0.5,
        "values": ["3/12","3/15","3/20","3/25","3/28","4/2","4/4","4/8","4/10","4/15","4/18","4/23","4/26","5/1","5/3","5/7","5/9","5/14","5/17","5/22","5/27","5/30","6/4","6/6","6/10","6/13","6/18","6/21","6/26","7/1","7/3","7/5","7/9","7/11","7/16","7/19","7/24","7/29"]}},
    "y": {"datum": 9.5, "type": "quantitative", "scale": {"domain": [12.3, 75.8], "zero": false, "nice": false},
      "axis": {"orient": "right", "title": null, "values": [50, 20], "format": ".3f", "grid": true, "gridColor": "#e6e6e6", "tickSize": 4, "tickColor": "#777", "labelFontSize": 7.2, "labelColor": "#444", "labelPadding": 2, "domain": false, "labelOverlap": false}},
    "text": {"value": "www.forexre.com"}
   }
  },
  {
   "data": {"name": "rsi"},
   "mark": {"type": "line", "strokeWidth": 1, "color": "#555555"},
   "encoding": {
    "x": {"field": "d", "type": "ordinal", "axis": null},
    "y": {"field": "v", "type": "quantitative", "axis": null},
    "order": {"field": "i", "type": "quantitative"}
   }
  },
  {
   "data": {"values": [{}]},
   "mark": {"type": "text", "align": "left", "baseline": "middle", "dx": -2, "fontSize": 7, "color": "#555555"},
   "encoding": {"x": {"datum": "3/12", "type": "ordinal", "axis": null}, "y": {"datum": 72.5, "axis": null}, "text": {"value": "RSI : 9 : 34.695"}}
  }
 ]
}
]
}
